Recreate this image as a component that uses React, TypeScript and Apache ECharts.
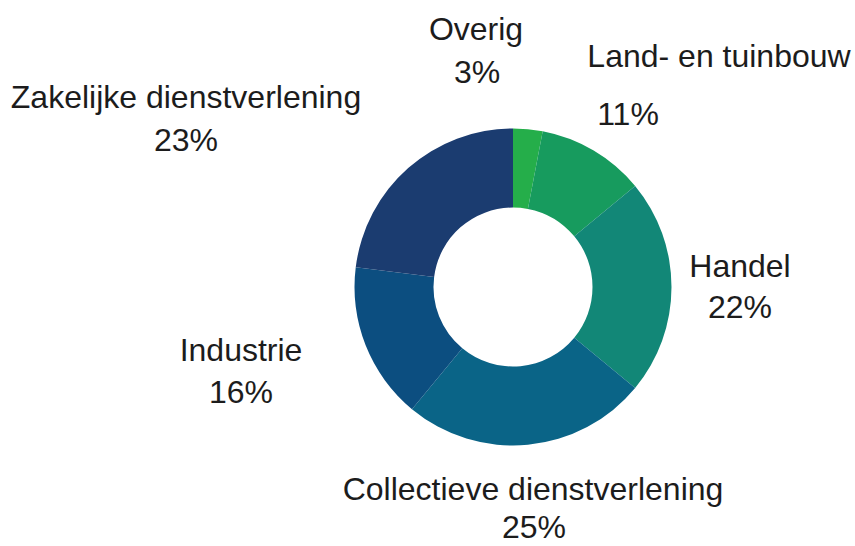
import React, { useEffect, useRef } from "react";
import * as echarts from "echarts";

const categories = [
  "Overig",
  "Land- en tuinbouw",
  "Handel",
  "Collectieve dienstverlening",
  "Industrie",
  "Zakelijke dienstverlening",
];
const values = [3, 11, 22, 25, 16, 23];
const colors = ["#25AE4A", "#179B5E", "#128777", "#0A6487", "#0C4E80", "#1B3C70"];

// label layout: [nameX, nameY, pctX, pctY]
const labelPos: number[][] = [
  [476, 29, 477, 72],
  [719, 56, 628, 114],
  [740, 266, 740, 307],
  [533, 489, 534, 527],
  [241, 350, 241, 392],
  [186, 97, 186, 140],
];

const FONT = '32px "Liberation Sans", Arial, sans-serif';
const TEXT_COLOR = "#1c1c1c";

export default function App() {
  const ref = useRef<HTMLDivElement>(null);
  useEffect(() => {
    if (!ref.current) return;
    const chart = echarts.init(ref.current, undefined, { renderer: "svg" });
    const total = values.reduce((a, b) => a + b, 0);
    const texts: any[] = [];
    categories.forEach((name, i) => {
      const p = labelPos[i];
      texts.push({
        type: "text",
        x: p[0],
        y: p[1],
        style: {
          text: name,
          font: FONT,
          fill: TEXT_COLOR,
          align: "center",
          verticalAlign: "middle",
        },
      });
      texts.push({
        type: "text",
        x: p[2],
        y: p[3],
        style: {
          text: Math.round((values[i] / total) * 100) + "%",
          font: FONT,
          fill: TEXT_COLOR,
          align: "center",
          verticalAlign: "middle",
        },
      });
    });
    chart.setOption({
      animation: false,
      backgroundColor: "#ffffff",
      series: [
        {
          type: "pie",
          center: [513, 287],
          radius: [79.5, 158.5],
          startAngle: 90,
          clockwise: true,
          label: { show: false },
          labelLine: { show: false },
          itemStyle: { borderWidth: 0 },
          data: categories.map((name, i) => ({
            name,
            value: values[i],
            itemStyle: { color: colors[i] },
          })),
        },
      ],
      graphic: texts,
    });
    return () => chart.dispose();
  }, []);
  return (
    <div
      ref={ref}
      style={{ position: "fixed", left: 0, top: 0, width: 855, height: 546, background: "#fff" }}
    />
  );
}
